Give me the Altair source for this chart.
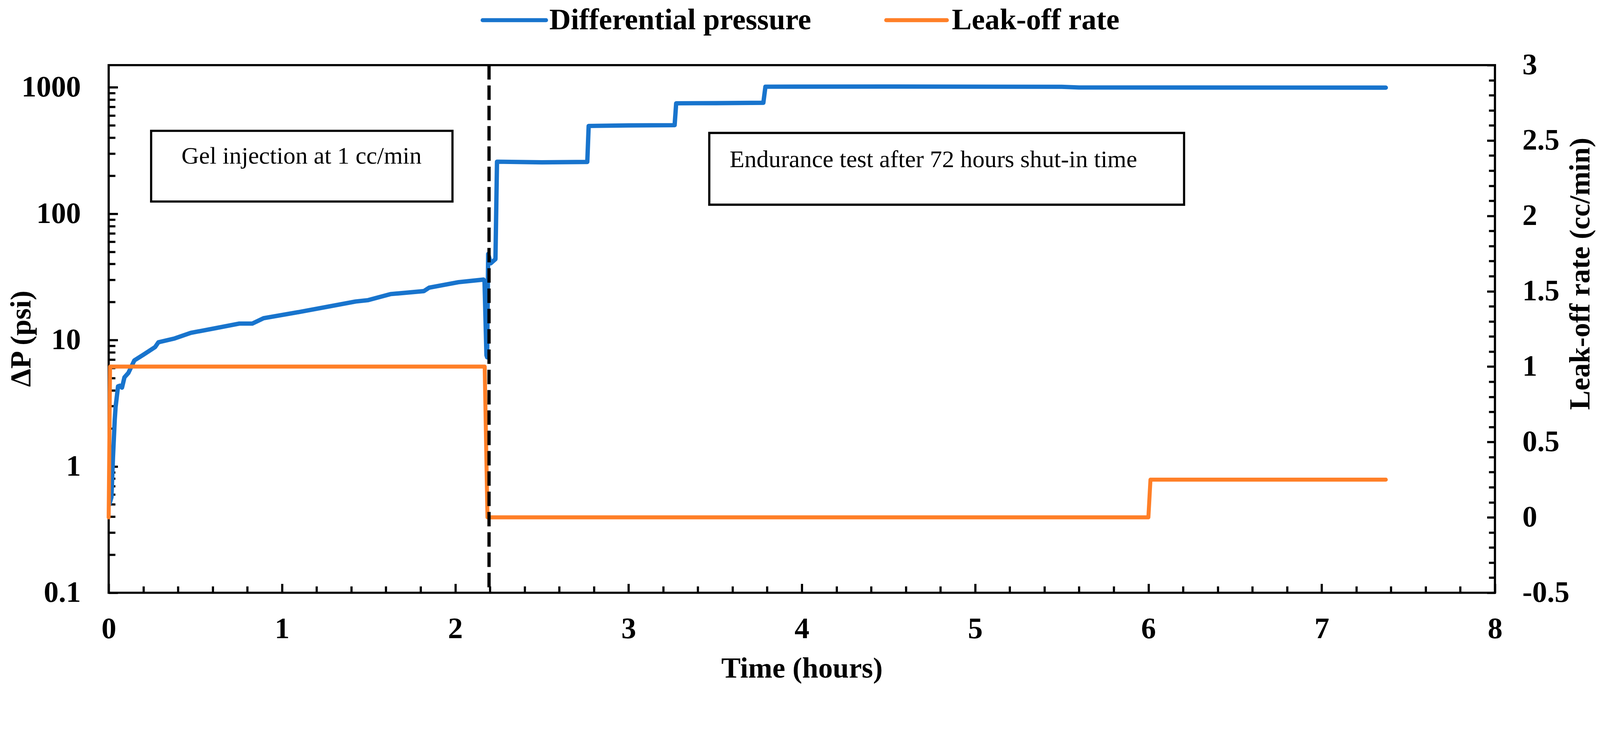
import altair as alt
import pandas as pd

# ---------------- data ----------------
# Differential pressure (psi) vs time (hours)
dp_time = [0.004, 0.016, 0.025, 0.035, 0.040, 0.054, 0.065, 0.077, 0.091, 0.114,
           0.148, 0.203, 0.268, 0.287, 0.381, 0.474, 0.614, 0.754, 0.829, 0.894,
           1.081, 1.268, 1.425, 1.498, 1.626, 1.819, 1.850, 2.019, 2.163, 2.169,
           2.180, 2.184, 2.190, 2.205, 2.232, 2.241, 2.500, 2.762, 2.770, 3.000,
           3.266, 3.275, 3.500, 3.778, 3.790, 4.500, 5.500, 5.600, 7.370]
dp_value = [0.50, 0.57, 1.19, 2.34, 2.96, 4.30, 4.35, 4.20, 5.07, 5.50,
            6.90, 7.70, 8.80, 9.60, 10.3, 11.4, 12.4, 13.5, 13.5, 14.9,
            16.5, 18.4, 20.2, 20.7, 23.1, 24.4, 26.0, 28.7, 30.1, 29.0,
            7.6, 7.3, 48.0, 40.5, 43.7, 258, 255, 257, 495, 500,
            502, 748, 750, 755, 1012, 1015, 1010, 998, 995]

# Leak-off rate (cc/min) vs time (hours)
rate_time = [0.000, 0.008, 2.170, 2.186, 6.000, 6.012, 7.370]
rate_value = [0.0, 1.0, 1.0, 0.0, 0.0, 0.25, 0.25]

series_names = ["Differential pressure", "Leak-off rate"]
series_colors = ["#1874CD", "#FF7F27"]

# shut-in marker (hours)
shut_in_time = [2.195]

# annotation boxes (time on x, leak-off-rate units on y)
note_labels = ["Gel injection at 1 cc/min", "Endurance test after 72 hours shut-in time"]
note_x0 = [0.245, 3.466]
note_x1 = [1.984, 6.206]
note_y0 = [2.095, 2.074]
note_y1 = [2.564, 2.550]
note_tx = [1.113, 4.759]
note_ty = [2.394, 2.372]

# legend placement above the plot (time on x, leak-off-rate units on y)
legend_x0 = [2.158, 4.487]
legend_x1 = [2.524, 4.837]
legend_tx = [2.543, 4.866]
legend_y = [3.298, 3.298]

# axis tick values
x_major = [0, 1, 2, 3, 4, 5, 6, 7, 8]
x_minor = [round(i * 0.2, 1) for i in range(41) if i % 5]
dp_major = [0.1, 1, 10, 100, 1000]
dp_minor = [round(k * 10 ** e, 1) for e in range(-1, 3) for k in range(2, 10)]
rate_major = [-0.5, 0, 0.5, 1, 1.5, 2, 2.5, 3]
rate_minor = [round(-0.5 + 0.1 * i, 1) for i in range(36) if i % 5]

# ---------------- tables ----------------
dp_df = pd.DataFrame({"t": dp_time, "dp": dp_value, "series": series_names[0]})
rate_df = pd.DataFrame({"t": rate_time, "rate": rate_value, "series": series_names[1]})
notes = pd.DataFrame({"label": note_labels, "x0": note_x0, "x1": note_x1,
                      "y0": note_y0, "y1": note_y1, "tx": note_tx, "ty": note_ty})
shut_df = pd.DataFrame({"t": shut_in_time})
leg_df = pd.DataFrame({"series": series_names, "x0": legend_x0, "x1": legend_x1,
                       "tx": legend_tx, "y": legend_y})

FONT = "Liberation Serif"
W, H = 3822, 1455


def xs():
    return alt.Scale(domain=[0, 8], nice=False, zero=False)


def dps():
    return alt.Scale(type="log", domain=[0.1, 1500], nice=False)


def rates():
    return alt.Scale(domain=[-0.5, 3], nice=False, zero=False)


color = alt.Color("series:N", scale=alt.Scale(domain=series_names, range=series_colors),
                  legend=None)

# minor ticks carrier (x bottom, left log)
minor_a = alt.Chart(dp_df).mark_line(opacity=0).encode(
    x=alt.X("t:Q", scale=xs(), axis=alt.Axis(orient="bottom", values=x_minor, tickSize=18,
                                            offset=-18, labels=False, title=None)),
    y=alt.Y("dp:Q", scale=dps(), axis=alt.Axis(orient="left", values=dp_minor, tickSize=18,
                                              offset=-18, labels=False, title=None)),
)

# minor ticks carrier (right)
minor_b = alt.Chart(rate_df).mark_line(opacity=0).encode(
    x=alt.X("t:Q", scale=xs(), axis=None),
    y=alt.Y("rate:Q", scale=rates(), axis=alt.Axis(orient="right", values=rate_minor, tickSize=17,
                                                  offset=-17, labels=False, title=None)),
)

boxes = alt.Chart(notes).mark_rect(fillOpacity=0, stroke="black", strokeWidth=6).encode(
    x=alt.X("x0:Q", scale=xs(), axis=None), x2="x1:Q",
    y=alt.Y("y0:Q", scale=rates(), axis=None), y2="y1:Q",
)

texts = alt.Chart(notes).mark_text(font=FONT, fontSize=67, color="black", align="center",
                                   baseline="middle").encode(
    x=alt.X("tx:Q", scale=xs(), axis=None),
    y=alt.Y("ty:Q", scale=rates(), axis=None),
    text="label:N",
)

blue = alt.Chart(dp_df).mark_line(strokeWidth=12, strokeJoin="round", strokeCap="round").encode(
    x=alt.X("t:Q", scale=xs(), axis=alt.Axis(
        orient="bottom", values=x_major, tickSize=25, offset=-25, format="d",
        labelPadding=125, labelBaseline="alphabetic",
        title="Time (hours)", titleBaseline="alphabetic", titleY=259)),
    y=alt.Y("dp:Q", scale=dps(), axis=alt.Axis(
        orient="left", values=dp_major, tickSize=25, offset=-25, format="~g",
        labelPadding=77,
        title="ΔP (psi)", titleAngle=270, titleBaseline="alphabetic",
        titleX=-241, titleY=754)),
    color=color,
)

orange = alt.Chart(rate_df).mark_line(strokeWidth=11, strokeJoin="round", strokeCap="round").encode(
    x=alt.X("t:Q", scale=xs(), axis=None),
    y=alt.Y("rate:Q", scale=rates(), axis=alt.Axis(
        orient="right", values=rate_major, tickSize=22, offset=-22,
        labelExpr="(datum.value < 0 ? '-' : '') + format(abs(datum.value), '~g')",
        labelPadding=75,
        title="Leak-off rate (cc/min)", titleAngle=270, titleBaseline="alphabetic",
        titleX=282, titleY=575)),
    color=color,
)

rule = alt.Chart(shut_df).mark_rule(color="black", strokeWidth=9, strokeDash=[40, 16]).encode(
    x=alt.X("t:Q", scale=xs(), axis=None),
)

# legend (drawn above the plot area)
leg_lines = alt.Chart(leg_df).mark_rule(strokeWidth=11, strokeCap="round").encode(
    x=alt.X("x0:Q", scale=xs(), axis=None), x2="x1:Q",
    y=alt.Y("y:Q", scale=rates(), axis=None),
    color=color,
)
leg_text = alt.Chart(leg_df).mark_text(font=FONT, fontSize=82, fontWeight="bold", color="black",
                                       align="left", baseline="middle").encode(
    x=alt.X("tx:Q", scale=xs(), axis=None),
    y=alt.Y("y:Q", scale=rates(), axis=None),
    text="series:N",
)

chart = (
    alt.layer(minor_a, minor_b, boxes, texts, blue, orange, rule, leg_lines, leg_text)
    .resolve_scale(x="independent", y="independent")
    .resolve_axis(x="independent", y="independent")
    .properties(
        width=W, height=H,
        autosize=alt.AutoSizeParams(type="none"),
        padding={"left": 291, "top": 101, "right": 281, "bottom": 261},
        background="white",
    )
    .configure_view(stroke="black", strokeWidth=6)
    .configure_axis(
        grid=False, domain=False, tickColor="black", tickWidth=6,
        labelFlush=False, labelOverlap=False,
        labelFont=FONT, labelFontSize=82, labelFontWeight="bold", labelColor="black",
        titleFont=FONT, titleFontSize=80, titleFontWeight="bold", titleColor="black",
    )
)

chart.save("out.html", embed_options={"renderer": "svg", "actions": False})
